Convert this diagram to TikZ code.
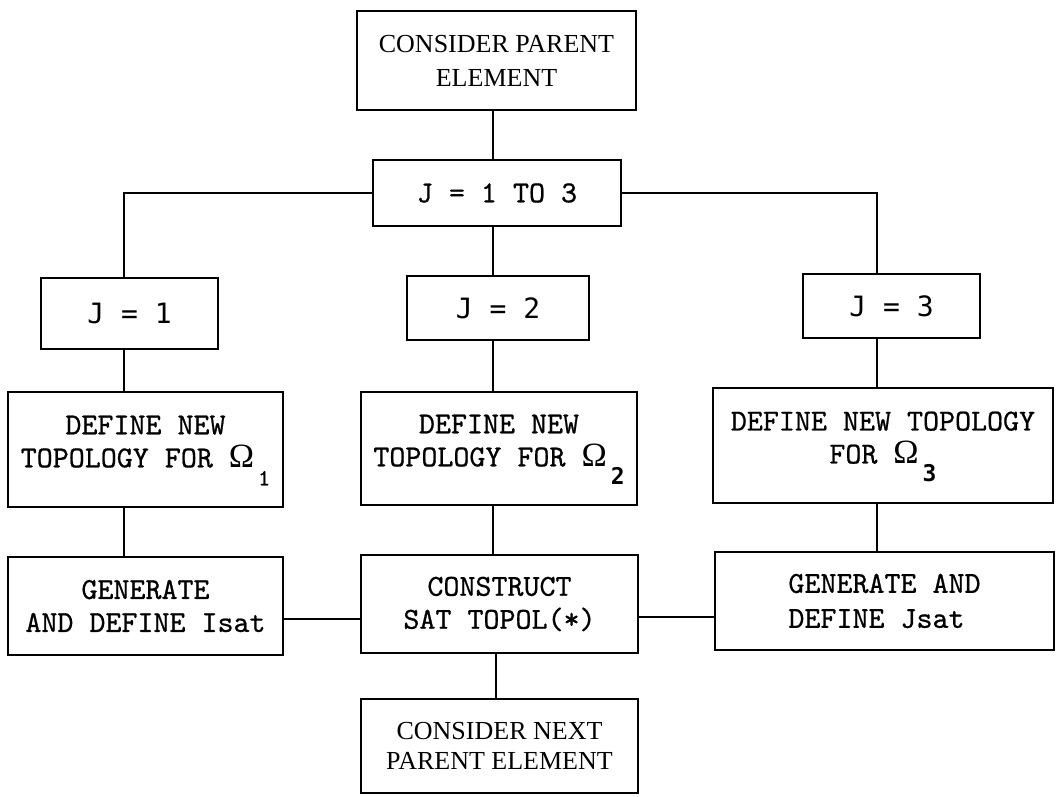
\documentclass[tikz,border=0pt]{standalone}
\usepackage{fontspec}
\newfontfamily\twfont{lmmono10-regular}[Extension=.otf, FakeBold=0.7]
\newfontfamily\sansmono{DejaVu Sans Mono}
\newfontfamily\greekfont{Liberation Serif}
\newfontfamily\serifont{Liberation Serif}
\newcommand{\Om}{{\greekfont\fontsize{34}{34}\selectfont Ω}}
\newcommand{\subnum}[2][\twfont]{\raisebox{-18pt}[0pt][0pt]{\hspace{4pt}#1\fontsize{23}{23}\selectfont #2}}
\begin{document}
\begin{tikzpicture}[x=1pt,y=-1pt]
\tikzset{
  box/.style={draw, line width=1.8pt, inner sep=0pt},
  tw/.style={font=\twfont\fontsize{30.5}{33}\selectfont, align=center},
  twl/.style={font=\twfont\fontsize{30.5}{35}\selectfont, align=left},
  serif/.style={font=\serifont\fontsize{26}{34}\selectfont, align=center},
  serifb/.style={font=\serifont\fontsize{26}{30}\selectfont, align=center},
  jtext/.style={font=\sansmono\fontsize{28}{30}\selectfont},
  link/.style={line width=1.8pt},
  liftsub/.style={text depth=16pt}
}
\useasboundingbox[fill=white] (0,0) rectangle (1056,796);

% boxes
\node[box, serif, minimum width=279pt, minimum height=99pt] (top) at (496.5,60.5) {CONSIDER PARENT\\ELEMENT};
\node[box, tw, minimum width=248pt, minimum height=66pt] (jloop) at (497,193) {J = 1 TO 3};
\node[box, jtext, minimum width=177pt, minimum height=71pt] (j1) at (129.5,313.5) {J = 1};
\node[box, jtext, minimum width=182pt, minimum height=64pt] (j2) at (498,308) {J = 2};
\node[box, jtext, minimum width=177pt, minimum height=64pt] (j3) at (891.5,306) {J = 3};
\node[box, tw, liftsub, minimum width=275pt, minimum height=115pt] (def1) at (145.5,449.5) {DEFINE NEW\\TOPOLOGY FOR \Om\subnum{1}};
\node[box, tw, liftsub, minimum width=276pt, minimum height=113pt] (def2) at (499,448.5) {DEFINE NEW\\TOPOLOGY FOR \Om\subnum[\sansmono\bfseries]{2}};
\node[box, tw, liftsub, minimum width=340pt, minimum height=115pt] (def3) at (883,445.5) {DEFINE NEW TOPOLOGY\\FOR \Om\subnum[\sansmono\bfseries]{3}};
\node[box, tw, minimum width=275pt, minimum height=98pt] (gen1) at (145.5,606) {GENERATE\\AND DEFINE Isat};
\node[box, tw, minimum width=277pt, minimum height=98pt] (cons) at (499.5,604) {CONSTRUCT\\SAT TOPOL(*)};
\node[box, twl, minimum width=339pt, minimum height=98pt] (gen3) at (884.5,601) {GENERATE AND\\DEFINE Jsat};
\node[box, serifb, minimum width=277pt, minimum height=94pt] (next) at (499.5,746) {CONSIDER NEXT\\PARENT ELEMENT};

% connector guides
\coordinate (cx) at (493,0);
\coordinate (cb) at (496,0);
\coordinate (c1) at (124,0);
\coordinate (c3) at (877,0);
\coordinate (h1) at (0,619);
\coordinate (h2) at (0,617);

% connectors
\draw[link] (top.south -| cx) -- (jloop.north -| cx);
\draw[link] (jloop.south -| cx) -- (j2.north -| cx);
\draw[link] (jloop.west) -| (j1.north -| c1);
\draw[link] (jloop.east) -| (j3.north -| c3);
\draw[link] (j1.south -| c1) -- (def1.north -| c1);
\draw[link] (j2.south -| cx) -- (def2.north -| cx);
\draw[link] (j3.south -| c3) -- (def3.north -| c3);
\draw[link] (def1.south -| c1) -- (gen1.north -| c1);
\draw[link] (def2.south -| cx) -- (cons.north -| cx);
\draw[link] (def3.south -| c3) -- (gen3.north -| c3);
\draw[link] (gen1.east |- h1) -- (cons.west |- h1);
\draw[link] (cons.east |- h2) -- (gen3.west |- h2);
\draw[link] (cons.south -| cb) -- (next.north -| cb);
\end{tikzpicture}
\end{document}
